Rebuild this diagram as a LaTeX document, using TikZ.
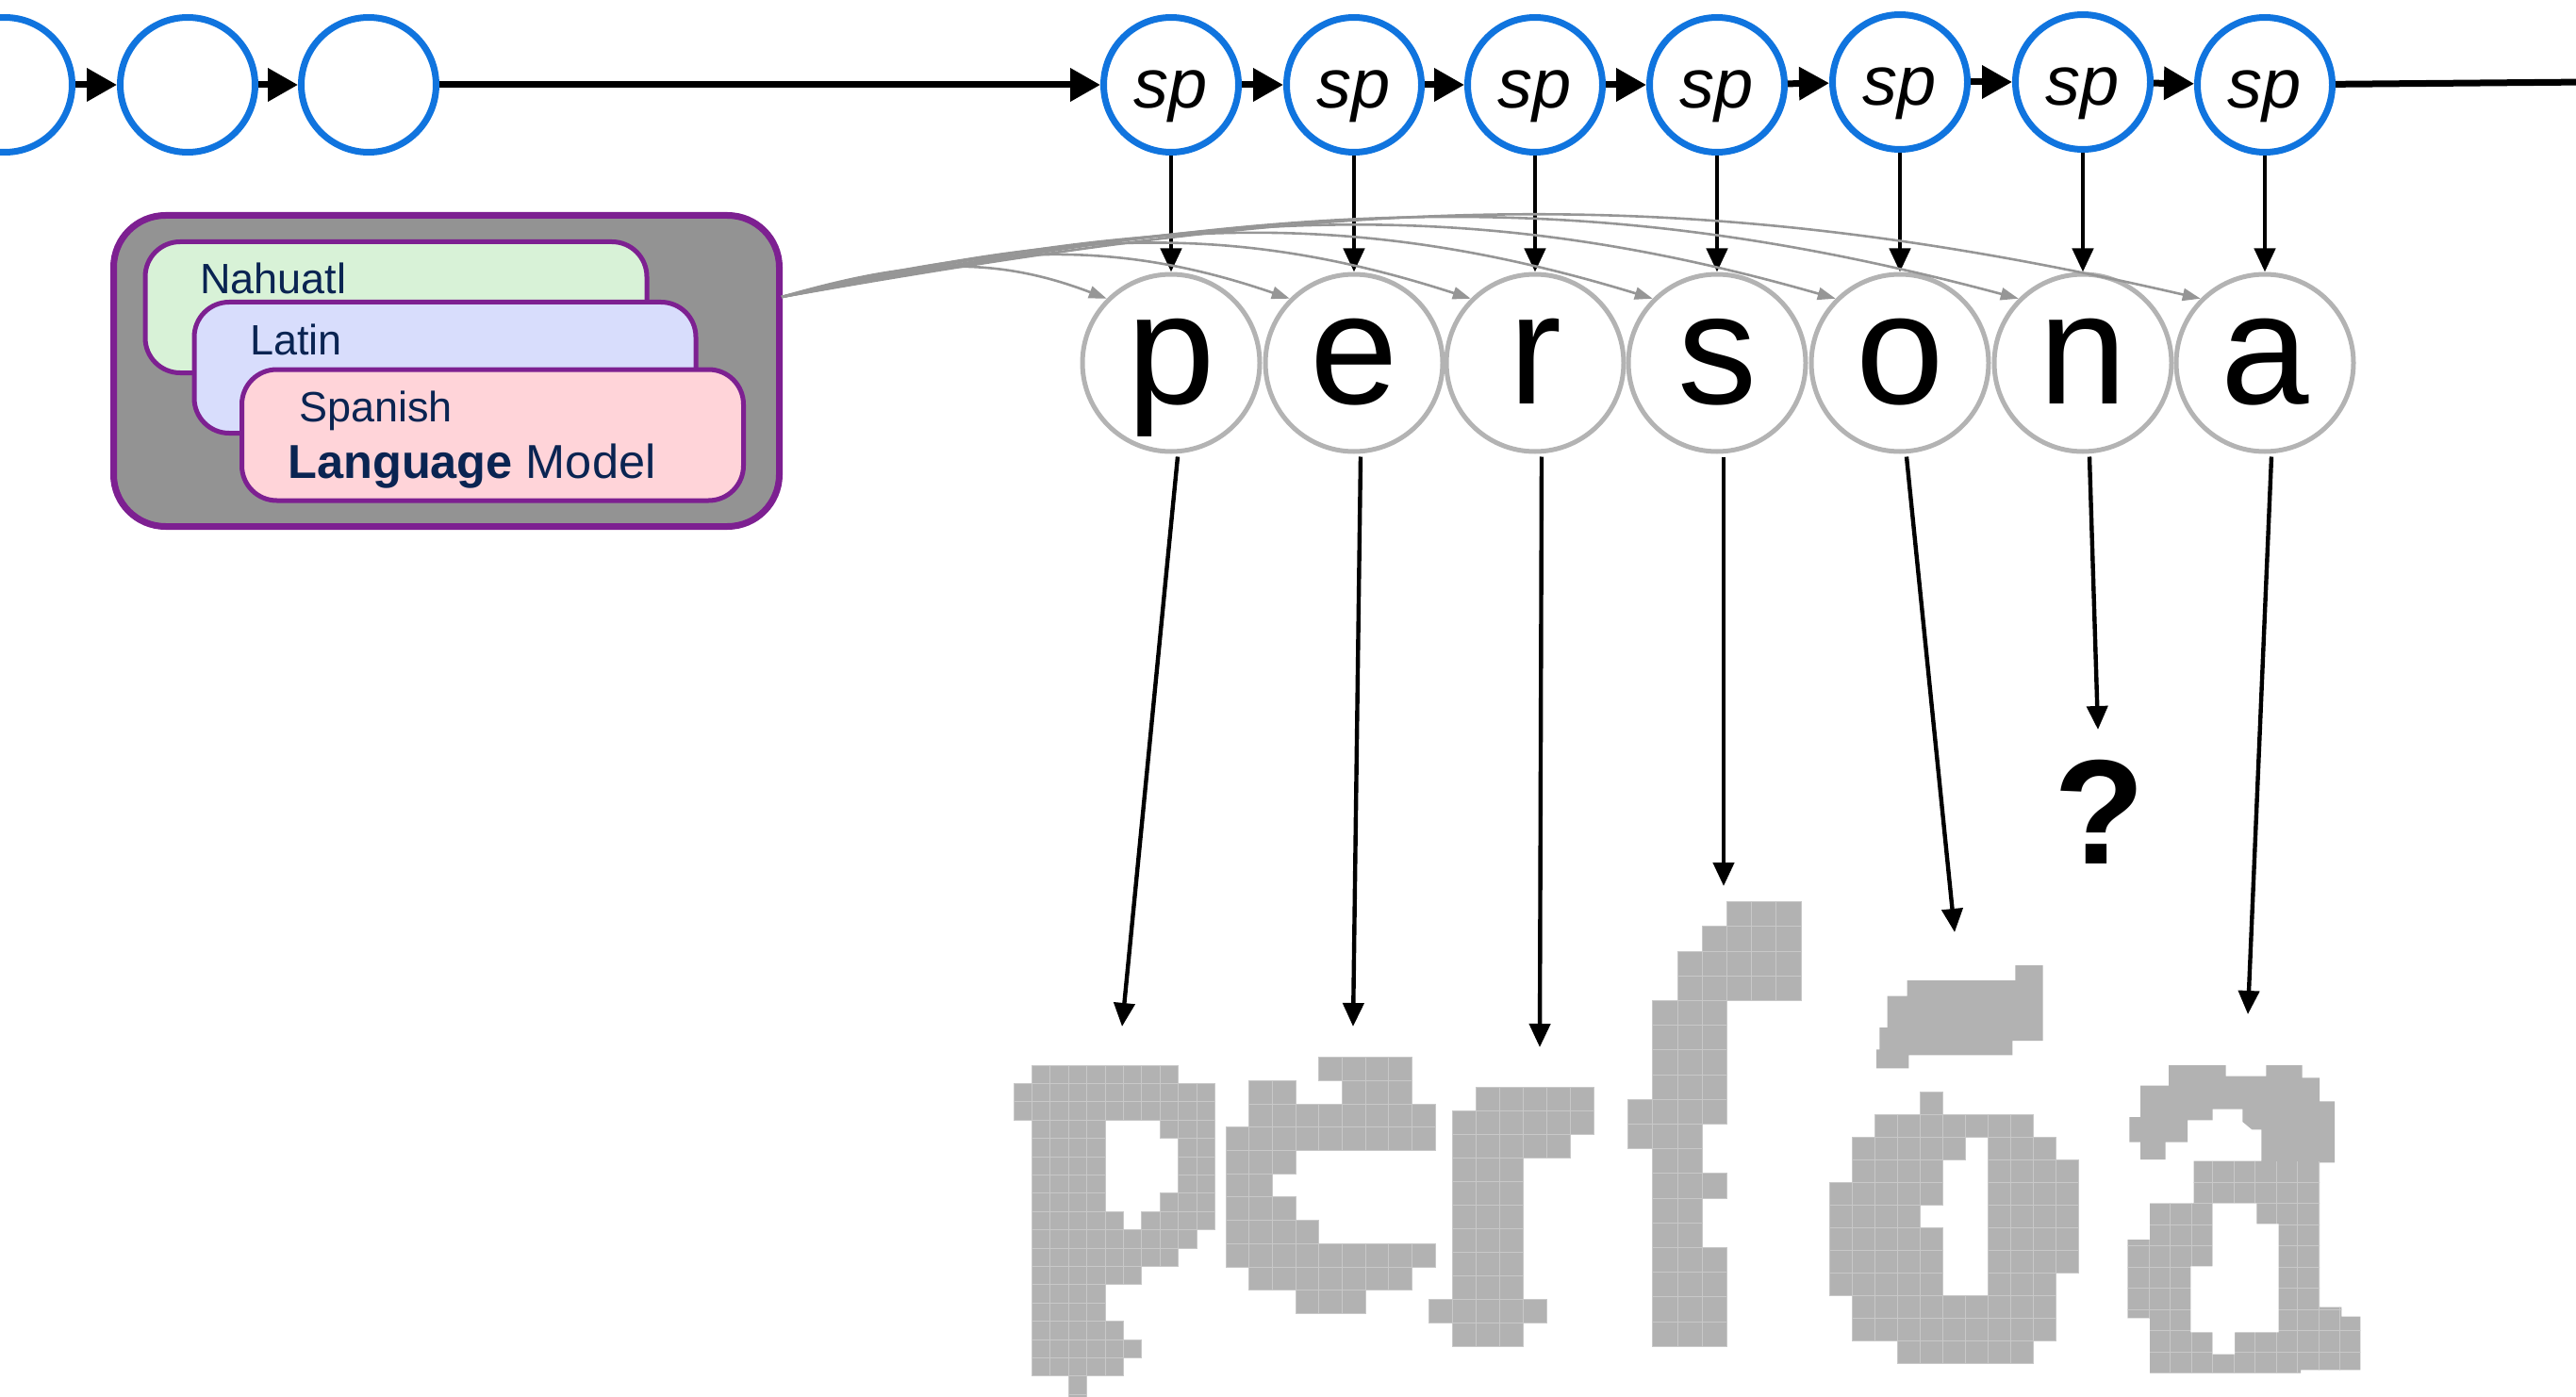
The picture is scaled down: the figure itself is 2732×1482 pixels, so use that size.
\documentclass[tikz,border=0pt]{standalone}
\usepackage{fontspec}
\setmainfont{Liberation Sans}
\usetikzlibrary{arrows.meta,calc}

\definecolor{ringblue}{RGB}{16,116,222}
\definecolor{lmpurple}{RGB}{125,32,145}
\definecolor{lmgray}{RGB}{147,147,147}
\definecolor{nahfill}{RGB}{216,242,215}
\definecolor{latfill}{RGB}{216,221,252}
\definecolor{spafill}{RGB}{255,212,217}
\definecolor{navy}{RGB}{10,36,82}
\definecolor{ringgray}{RGB}{179,179,179}
\definecolor{curvegray}{RGB}{150,150,150}
\definecolor{pixgray}{RGB}{178,178,178}
\definecolor{pixline}{RGB}{200,200,200}

% one bitmap glyph: origin x, origin y, cell size, list of row/first/last cells
\newcommand{\pixglyph}[4]{%
  \begin{scope}[shift={(#1,-#2)}, x=#3, y=#3]
    \foreach \r/\a/\b in {#4} {
      \foreach \c in {\a,...,\b} {
        \filldraw[pixcell] (\c,-\r) rectangle ++(1,-1);
      }
    }
  \end{scope}}

\begin{document}
\begin{tikzpicture}[x=0.5pt,y=0.5pt,
  state/.style={circle, draw=ringblue, line width=3.5pt, minimum size=71.5pt,
    inner sep=0pt, font=\itshape\fontsize{37}{37}\selectfont,
    text height=25pt, text depth=0pt},
  letter/.style={circle, draw=ringgray, line width=2.5pt, minimum size=94pt,
    inner sep=0pt, font=\fontsize{84}{84}\selectfont,
    text height=43.5pt, text depth=0pt},
  chain/.style={line width=3.5pt, -{Triangle[length=16pt,width=17pt]}},
  down/.style={line width=2.2pt, -{Triangle[length=12.5pt,width=11pt]}},
  lmflow/.style={draw=curvegray, line width=1.3pt,
    -{Triangle[length=9.5pt,width=6.5pt]}},
  lmbox/.style={rectangle, rounded corners=18.5pt, draw=lmpurple,
    line width=2.5pt, minimum width=266pt, minimum height=69.5pt},
  lmtext/.style={text=navy, inner sep=0pt, anchor=base west,
    font=\fontsize{22.5}{27}\selectfont},
  pixcell/.style={fill=pixgray, draw=pixline, line width=0.5pt}]

\useasboundingbox (0,0) rectangle (2732,-1482);
\clip (0,0) rectangle (2732,-1482);

% ---- language model stack ----
\node[rectangle, rounded corners=27.5pt, draw=lmpurple, fill=lmgray,
  line width=3.5pt, minimum width=353pt, minimum height=165pt]
  (lm) at (473.5,-393.5) {};
\node[lmbox, fill=nahfill] (nah) at (420,-326) {};
\node[lmbox, fill=latfill] (lat) at (472,-390) {};
\node[lmbox, fill=spafill] (spa) at (522.5,-461.5) {};
\node[lmtext] (tnah) at (212,-312) {Nahuatl};
\node[lmtext] (tlat) at (265,-377) {Latin};
\node[lmtext] (tspa) at (317,-447) {Spanish};
\node[lmtext, font=\fontsize{25.25}{30}\selectfont] (tlm) at (305,-507)
  {\textbf{Language} Model};

% ---- chain of states ----
\node[state] (c0) at (5,-90) {};
\node[state] (c1) at (199,-90) {};
\node[state] (c2) at (391,-90) {};
\node[state] (sp1) at (1242,-90) {sp};
\node[state] (sp2) at (1436,-90) {sp};
\node[state] (sp3) at (1628,-90) {sp};
\node[state] (sp4) at (1821,-90) {sp};
\node[state] (sp5) at (2015,-87) {sp};
\node[state] (sp6) at (2209,-87) {sp};
\node[state] (sp7) at (2402,-90) {sp};
\coordinate (tail) at (2745,-87);

\draw[chain] (c0) -- (c1);
\draw[chain] (c1) -- (c2);
\draw[chain] (c2) -- (sp1);
\draw[chain] (sp1) -- (sp2);
\draw[chain] (sp2) -- (sp3);
\draw[chain] (sp3) -- (sp4);
\draw[chain] (sp4) -- (sp5);
\draw[chain] (sp5) -- (sp6);
\draw[chain] (sp6) -- (sp7);
\draw[line width=3.5pt] (sp7) -- (tail);

% ---- emitted letters ----
\node[letter] (lp) at (1242,-385) {p};
\node[letter] (le) at (1436,-385) {e};
\node[letter] (lr) at (1628,-385) {r};
\node[letter] (ls) at (1821,-385) {s};
\node[letter] (lo) at (2015,-385) {o};
\node[letter] (ln) at (2209,-385) {n};
\node[letter] (la) at (2402,-385) {a};

\foreach \s/\l in {sp1/lp, sp2/le, sp3/lr, sp4/ls, sp5/lo, sp6/ln, sp7/la}
  \draw[down] (\s) -- (\l);

% ---- language model feeding every letter ----
\coordinate (src) at (829,-315);
\draw[lmflow] (src) to[out=16,in=159] (lp.north west);
\draw[lmflow] (src) to[out=14,in=161] (le.north west);
\draw[lmflow] (src) to[out=13,in=162] (lr.north west);
\draw[lmflow] (src) to[out=12,in=163] (ls.north west);
\draw[lmflow] (src) to[out=11,in=164] (lo.north west);
\draw[lmflow] (src) to[out=10.5,in=165] (ln.north west);
\draw[lmflow] (src) to[out=10,in=167] (la.north west);

% ---- arrows down to the printed glyphs ----
\coordinate (tp) at (1190,-1089);
\coordinate (te) at (1435,-1089);
\coordinate (tr) at (1633,-1111);
\coordinate (ts) at (1828,-940);
\coordinate (to) at (2073,-989);
\coordinate (tn) at (2225,-774);
\coordinate (ta) at (2384,-1076);
\foreach \l/\t in {lp/tp, le/te, lr/tr, ls/ts, lo/to, ln/tn, la/ta}
  \draw[down] ($(\l.south)+(7,-3)$) -- (\t);

\node[inner sep=0pt, anchor=base, font=\bfseries\fontsize{79}{79}\selectfont]
  (qm) at (2227,-916) {?};

% ---- bitmap glyphs of the printed word ----
\pixglyph{1075}{1130}{9.7pt}{0/1/8, 1/0/10, 2/0/10, 3/1/4, 3/8/10, 4/1/4,
  4/9/10, 5/1/4, 5/9/10, 6/1/4, 6/9/10, 7/1/4, 7/8/10, 8/1/5, 8/7/10, 9/1/9,
  10/1/8, 11/1/6, 12/1/4, 13/1/4, 14/1/5, 15/1/6, 16/1/5, 17/3/3, 18/3/3}
\pixglyph{1300}{1121.7}{12.35pt}{0/4/7, 1/1/2, 1/5/7, 2/1/8, 3/0/8, 4/0/2,
  5/0/1, 6/0/2, 7/0/3, 8/0/8, 9/1/7, 10/3/5}
\pixglyph{1515}{1153.3}{12.5pt}{0/2/6, 1/1/6, 2/1/5, 3/1/3, 4/1/3, 5/1/3,
  6/1/3, 7/1/3, 8/1/3, 9/0/4, 10/1/3}
\pixglyph{1726.7}{956.7}{13.1pt}{0/4/6, 1/3/6, 2/2/6, 3/2/6, 4/1/3, 5/1/3,
  6/1/3, 7/1/3, 8/0/3, 9/0/2, 10/1/2, 11/1/3, 12/1/2, 13/1/2, 14/1/3, 15/1/3,
  16/1/3, 17/1/3}
\pixglyph{1940}{1158.3}{12pt}{0/4/4, 1/2/8, 2/1/5, 2/7/9, 3/1/4, 3/7/10,
  4/0/4, 4/7/10, 5/0/3, 5/7/10, 6/0/4, 6/7/10, 7/0/4, 7/7/10, 8/0/4, 8/7/9,
  9/1/9, 10/1/9, 11/3/8}
% accent over the o
\fill[pixgray] (1990,-1133.3) -- (1990,-1113.3) -- (1993.3,-1113.3)
  -- (1993.3,-1090) -- (2001.7,-1090) -- (2001.7,-1056.7) -- (2022.7,-1056.7)
  -- (2022.7,-1040) -- (2137.3,-1040) -- (2137.3,-1024) -- (2166.7,-1024)
  -- (2166.7,-1104) -- (2134.3,-1104) -- (2134.3,-1119.3) -- (2024.3,-1119.3)
  -- (2024.3,-1133.3) -- cycle;
% the a: outline, gray fill, cell lines on its lower part, then the counter
\begin{scope}
  \clip (2258.3,-1185) -- (2270,-1185) -- (2270,-1151.7)
    -- (2300,-1151.7) -- (2300,-1130) -- (2360.7,-1130) -- (2360.7,-1141.7)
    -- (2403.3,-1141.7) -- (2403.3,-1130) -- (2441.7,-1130) -- (2441.7,-1143.3)
    -- (2460,-1143.3) -- (2460,-1168.3) -- (2476,-1168.3) -- (2476,-1233.3)
    -- (2460,-1233.3) -- (2460,-1386.7) -- (2483.3,-1386.7) -- (2483.3,-1396.7)
    -- (2503.3,-1396.7) -- (2503.3,-1453.3) -- (2440,-1453.3) -- (2440,-1456.7)
    -- (2280,-1456.7) -- (2280,-1398.3) -- (2256.7,-1398.3) -- (2256.7,-1315)
    -- (2280,-1315) -- (2280,-1276.7) -- (2326.7,-1276.7) -- (2326.7,-1231.7)
    -- (2398.3,-1231.7) -- (2398.3,-1198.3) -- (2388.3,-1198.3)
    -- (2378.3,-1190) -- (2378.3,-1176.7) -- (2346.7,-1176.7)
    -- (2346.7,-1188.3) -- (2320,-1188.3) -- (2320,-1211.7)
    -- (2296.7,-1211.7) -- (2296.7,-1230) -- (2270,-1230) -- (2270,-1211.7)
    -- (2258.3,-1211.7) -- cycle;
  \fill[pixgray] (2250,-1120) rectangle (2510,-1470);
  \foreach \k in {0,...,11}
    \draw[pixline, line width=0.5pt] ({2256.7+22.5*\k},-1231.7) -- ++(0,-230);
  \foreach \k in {1,...,10}
    \draw[pixline, line width=0.5pt] (2250,{-1231.7-22.5*\k}) -- ++(260,0);
\end{scope}
\fill[white] (2346.7,-1276.7) -- (2393.3,-1276.7) -- (2393.3,-1298.3)
  -- (2416.7,-1298.3) -- (2416.7,-1413.3) -- (2370,-1413.3) -- (2370,-1436.7)
  -- (2346.7,-1436.7) -- (2346.7,-1413.3) -- (2323.3,-1413.3)
  -- (2323.3,-1343.3) -- (2346.7,-1343.3) -- cycle;
\end{tikzpicture}
\end{document}
